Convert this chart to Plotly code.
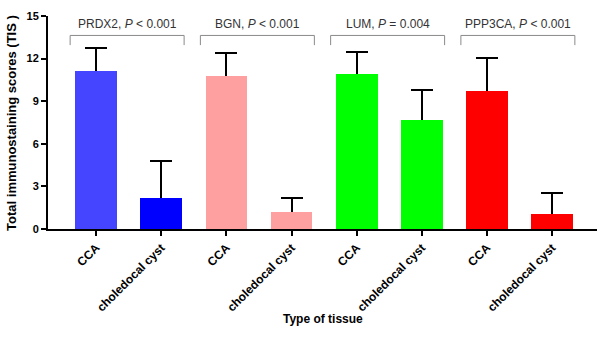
import plotly.graph_objects as go

categories = ["CCA", "choledocal cyst", "CCA", "choledocal cyst",
              "CCA", "choledocal cyst", "CCA", "choledocal cyst"]
means = [11.1, 2.2, 10.75, 1.17, 10.95, 7.65, 9.75, 1.06]
sd_upper = [1.65, 2.6, 1.65, 0.98, 1.5, 2.15, 2.3, 1.5]
bar_colors = ["#4545FF", "#0000FF", "#FFA0A0", "#FFA0A0",
              "#00FF00", "#00FF00", "#FF0000", "#FF0000"]
group_labels = ["PRDX2, <i>P</i> &lt; 0.001", "BGN, <i>P</i> &lt; 0.001",
                "LUM, <i>P</i> = 0.004", "PPP3CA, <i>P</i> &lt; 0.001"]
y_ticks = [0, 3, 6, 9, 12, 15]

xpos = list(range(len(categories)))
FONT = "Liberation Sans, Arial, sans-serif"

fig = go.Figure()
# bars carrying the (upper-only) error bars; lower end sits at zero and is hidden
fig.add_trace(go.Bar(
    x=xpos, y=means, width=0.64,
    marker=dict(color=bar_colors, line=dict(width=0)),
    error_y=dict(type="data", array=sd_upper, arrayminus=means,
                 symmetric=False, color="black", thickness=2, width=11),
    showlegend=False, hoverinfo="skip",
))
# same bars drawn on top so the error line starts at the bar top
fig.add_trace(go.Bar(
    x=xpos, y=means, width=0.64,
    marker=dict(color=bar_colors, line=dict(width=0)),
    showlegend=False,
))

shapes = []
annotations = []
for g, lab in enumerate(group_labels):
    x0 = 2 * g - 0.4
    x1 = 2 * g + 1 + 0.35
    shapes.append(dict(type="path", xref="x", yref="y",
                       path=f"M {x0},12.95 L {x0},13.63 L {x1},13.63 L {x1},12.95",
                       line=dict(color="#8a8a8a", width=1)))
    annotations.append(dict(x=(x0 + x1) / 2, y=14.45, xref="x", yref="y",
                            text=lab, showarrow=False,
                            font=dict(family=FONT, size=12, color="#333333")))

annotations.append(dict(x=0.5, y=-0.465, xref="paper", yref="paper",
                        text="<b>Type of tissue</b>", showarrow=False,
                        font=dict(family=FONT, size=12, color="black")))
annotations.append(dict(x=0, y=0.498, xref="paper", yref="paper", xshift=-36,
                        xanchor="center", yanchor="middle",
                        text="<b>Total immunostaining scores (TIS )</b>",
                        textangle=-90, showarrow=False,
                        font=dict(family=FONT, size=13, color="black")))

fig.update_layout(
    template="none",
    width=604, height=346,
    margin=dict(l=48, r=7, t=16, b=117, autoexpand=False),
    plot_bgcolor="white", paper_bgcolor="white",
    barmode="overlay", bargap=0,
    shapes=shapes, annotations=annotations,
    xaxis=dict(range=[-0.74, 7.69], tickmode="array", tickvals=xpos,
               ticktext=categories, tickangle=-45, automargin=False,
               tickfont=dict(family=FONT, size=12, color="black", weight="bold"),
               showline=True, linecolor="black", linewidth=2,
               ticks="outside", ticklen=5, tickwidth=1.5, tickcolor="black",
               showgrid=False, zeroline=False),
    yaxis=dict(range=[0, 15], tickvals=y_ticks, automargin=False,
               tickfont=dict(family=FONT, size=11, color="black", weight="bold"),
               showline=True, linecolor="black", linewidth=2,
               ticks="outside", ticklen=5, tickwidth=1.5, tickcolor="black",
               showgrid=False, zeroline=False),
)

fig.write_html("out.html",
               config={"displayModeBar": False},
               post_script="document.body.style.margin='0px';document.body.style.overflow='hidden';")
